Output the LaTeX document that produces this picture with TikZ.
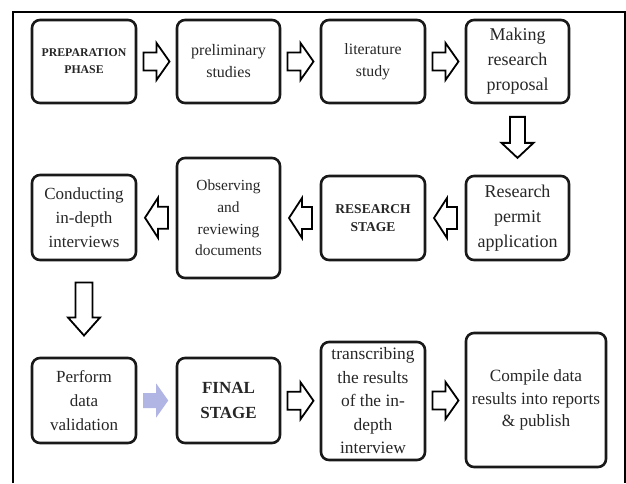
\documentclass[tikz,border=0pt]{standalone}
\usepackage{fontspec}
\setmainfont{Liberation Serif}
\usetikzlibrary{calc}
\begin{document}
\begin{tikzpicture}[x=1pt,y=-1pt,
  box/.style={draw=black!90, line width=2.6pt, rounded corners=8pt, align=center,
    inner sep=0pt, text=black!85},
  barrow/.style={draw=black, line width=1.8pt, fill=white, line join=miter},
  fr/.style={line width=1.6pt, draw=black},
  rarrow/.pic={\path[barrow] (-13,-9) -- (0,-9) -- (0,-18.5) -- (13,0) -- (0,18.5) -- (0,9) -- (-13,9) -- cycle;},
  larrow/.pic={\path[barrow] (11.5,-11) -- (1.5,-11) -- (1.5,-20) -- (-11.5,0) -- (1.5,20) -- (1.5,11) -- (11.5,11) -- cycle;},
  darrowA/.pic={\path[barrow] (-7.5,-20.5) -- (7.5,-20.5) -- (7.5,5.5) -- (16,5.5) -- (0,20.5) -- (-16,5.5) -- (-7.5,5.5) -- cycle;},
  darrowB/.pic={\path[barrow] (-8.5,-26.5) -- (8.5,-26.5) -- (8.5,8.5) -- (16,8.5) -- (0,26.5) -- (-16,8.5) -- (-8.5,8.5) -- cycle;},
  barrowblue/.pic={\path[fill=myblue] (-12.5,-7.5) -- (0.5,-7.5) -- (0.5,-17) -- (12.5,0) -- (0.5,17) -- (0.5,7.5) -- (-12.5,7.5) -- cycle;}
]
\definecolor{myblue}{HTML}{B1B5E4}
\useasboundingbox (0,0) rectangle (626,483);
% frame
\draw[fr] (13,483) -- (13,12) -- (625,12) -- (625,483);

% row 1
\node[box, minimum width=104pt, minimum height=83pt, font=\bfseries\fontsize{11.8}{17}\selectfont] (b1) at (84,61.5) {PREPARATION\\PHASE};
\node[box, minimum width=103pt, minimum height=83pt, font=\fontsize{16}{22}\selectfont] (b2) at (228.5,61.5) {preliminary\\studies};
\node[box, minimum width=104pt, minimum height=83pt, font=\fontsize{15.8}{22}\selectfont] (b3) at (373,61.5) {literature\\study};
\node[box, minimum width=103pt, minimum height=83pt, font=\fontsize{18}{25}\selectfont] (b4) at (517.5,61.5) {Making\\research\\proposal};

% row 2
\node[box, minimum width=104pt, minimum height=85pt, font=\fontsize{17}{24}\selectfont] (c1) at (84,217.5) {Conducting\\in-depth\\interviews};
\node[box, minimum width=103pt, minimum height=120pt, font=\fontsize{15.4}{21.7}\selectfont] (c2) at (228.5,218) {Observing\\and\\reviewing\\documents};
\node[box, minimum width=104pt, minimum height=84pt, font=\bfseries\fontsize{13.5}{18}\selectfont] (c3) at (373,218) {RESEARCH\\STAGE};
\node[box, minimum width=103pt, minimum height=84pt, font=\fontsize{18}{25}\selectfont] (c4) at (517.5,218) {Research\\permit\\application};

% row 3
\node[box, minimum width=104pt, minimum height=85pt, font=\fontsize{17}{24}\selectfont] (d1) at (84,400.5) {Perform\\data\\validation};
\node[box, minimum width=103pt, minimum height=85pt, font=\bfseries\fontsize{17}{25}\selectfont] (d2) at (228.5,400.5) {FINAL\\STAGE};
\node[box, minimum width=104pt, minimum height=118pt, font=\fontsize{17.4}{23.5}\selectfont] (d3) at (373,401) {transcribing\\the results\\of the in-\\depth\\interview};
\node[box, minimum width=140pt, minimum height=134pt, font=\fontsize{17.2}{22.5}\selectfont] (d4) at (536,400) {Compile data\\results into reports\\\& publish};

% arrows row 1
\coordinate (m1) at ($(b1.east)!0.5!(b2.west)$);
\coordinate (m2) at ($(b2.east)!0.5!(b3.west)$);
\coordinate (m3) at ($(b3.east)!0.5!(b4.west)$);
\pic at (m1) {rarrow};
\pic at (m2) {rarrow};
\pic at (m3) {rarrow};
% down arrow
\coordinate (m4) at ($(b4.south)!0.47!(c4.north)$);
\pic at (m4) {darrowA};
% arrows row 2 (pointing left)
\coordinate (m5) at ($(c4.west)!0.5!(c3.east)$);
\coordinate (m6) at ($(c3.west)!0.5!(c2.east)$);
\coordinate (m7) at ($(c2.west)!0.5!(c1.east)$);
\pic at (m5) {larrow};
\pic at (m6) {larrow};
\pic at (m7) {larrow};
% down arrow
\coordinate (m8) at ($(c1.south)!0.5!(d1.north)$);
\pic at (m8) {darrowB};
% arrows row 3
\coordinate (m9) at ($(d1.east)!0.48!(d2.west)$);
\coordinate (m10) at ($(d2.east)!0.5!(d3.west)$);
\coordinate (m11) at ($(d3.east)!0.5!(d4.west)$);
\pic at (m9) {barrowblue};
\pic at (m10) {rarrow};
\pic at (m11) {rarrow};
\end{tikzpicture}
\end{document}
